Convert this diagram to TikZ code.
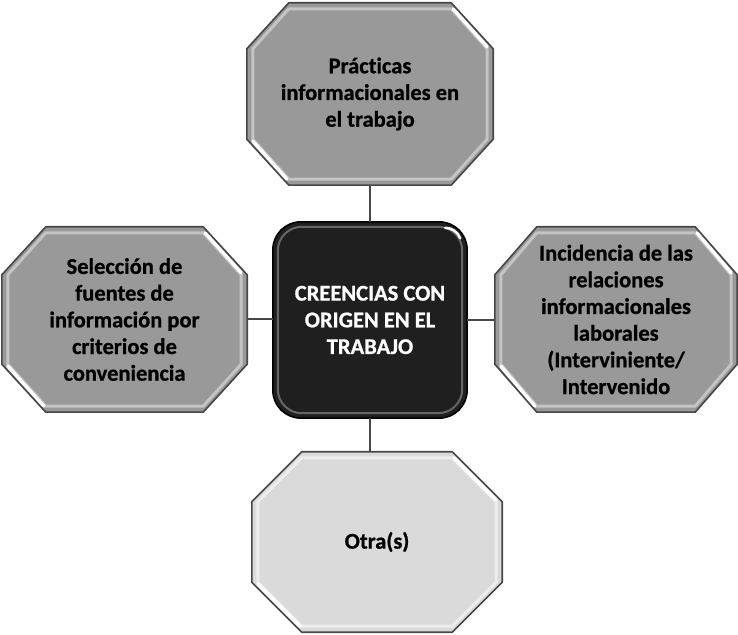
\documentclass[tikz,border=0pt]{standalone}
\usepackage{fontspec}
\setmainfont{Carlito}[Ligatures=NoCommon, BoldFeatures={FakeBold=0.8}]
\usetikzlibrary{calc,backgrounds}
\definecolor{boxgray}{HTML}{999999}
\definecolor{lightbox}{HTML}{DADADA}
\definecolor{edgegray}{HTML}{474747}
\definecolor{coredark}{HTML}{1F1F1F}
\definecolor{bevelgray}{HTML}{C4C4C4}
\definecolor{bevellight}{HTML}{EDEDED}
% octagon path round node #1, corner cuts #2 (x) and #3 (y), inset #4
\newcommand\octa[4]{($(#1.north west)+(#2,-#4)$) -- ($(#1.north east)+(-#2,-#4)$) -- ($(#1.north east)+(-#4,-#3)$) -- ($(#1.south east)+(-#4,#3)$) -- ($(#1.south east)+(-#2,#4)$) -- ($(#1.south west)+(#2,#4)$) -- ($(#1.south west)+(#4,#3)$) -- ($(#1.north west)+(#4,-#3)$) -- cycle}
\newcommand\octshape[5]{%
  \fill[#4] \octa{#1}{#2}{#3}{0};
  \draw[#5, line width=3pt, line join=round] \octa{#1}{#2}{#3}{6};
  \draw[white, line width=3.5pt, line cap=round] ($(#1.north east)+(-#2+2,-6)$) -- ($(#1.north east)+(-6,-#3+2)$);
  \draw[white, line width=3.5pt, line cap=round] ($(#1.south west)+(6,#3-2)$) -- ($(#1.south west)+(#2-2,6)$);
  \draw[edgegray, line width=1.6pt, line join=round] \octa{#1}{#2}{#3}{0};
}
\begin{document}
\begin{tikzpicture}[x=1pt,y=1pt,
  lbl/.style={font=\bfseries\fontsize{22.5}{26.7}\selectfont, align=center, inner sep=0pt},
  conn/.style={draw=edgegray, line width=2pt}]
\useasboundingbox (0,0) rectangle (738,634);
\node[lbl, minimum width=246pt, minimum height=182pt] (top) at (370,540) {Prácticas\\informacionales en\\el trabajo};
\node[lbl, minimum width=245pt, minimum height=185pt] (left) at (124.5,314.5) {Selección de\\fuentes de\\información por\\criterios de\\conveniencia};
\node[lbl, minimum width=242pt, minimum height=185pt] (right) at (616,314.5) {Incidencia de las\\relaciones\\informacionales\\laborales\\(Interviniente/\\Intervenido};
\node[lbl, minimum width=250pt, minimum height=180pt] (bottom) at (377,92) {Otra(s)};
\node[lbl, text=white, minimum width=194pt, minimum height=196pt] (core) at (370,314) {CREENCIAS CON\\ORIGEN EN EL\\TRABAJO};
\draw[conn] (top.south) -- (core.north);
\draw[conn] (left.east) -- (left.east -| core.west);
\draw[conn] (core.east) -- (core.east -| right.west);
\draw[conn] (core.south) -- (core.south |- bottom.north);
\begin{pgfonlayer}{background}
  \octshape{top}{42}{46}{boxgray}{bevelgray}
  \octshape{left}{44}{48}{boxgray}{bevelgray}
  \octshape{right}{42}{48}{boxgray}{bevelgray}
  \octshape{bottom}{50}{50}{lightbox}{bevellight}
  \fill[coredark, rounded corners=28pt] (core.south west) rectangle (core.north east);
  \draw[black!60, line width=2pt, rounded corners=24pt] ($(core.south west)+(5,5)$) rectangle ($(core.north east)+(-5,-5)$);
  \draw[white, line width=2.5pt, line cap=round] ($(core.north east)+(-22,-6)$) arc[start angle=90, end angle=20, radius=16pt];
  \draw[black, line width=1.5pt, rounded corners=28pt] (core.south west) rectangle (core.north east);
\end{pgfonlayer}
\end{tikzpicture}
\end{document}
